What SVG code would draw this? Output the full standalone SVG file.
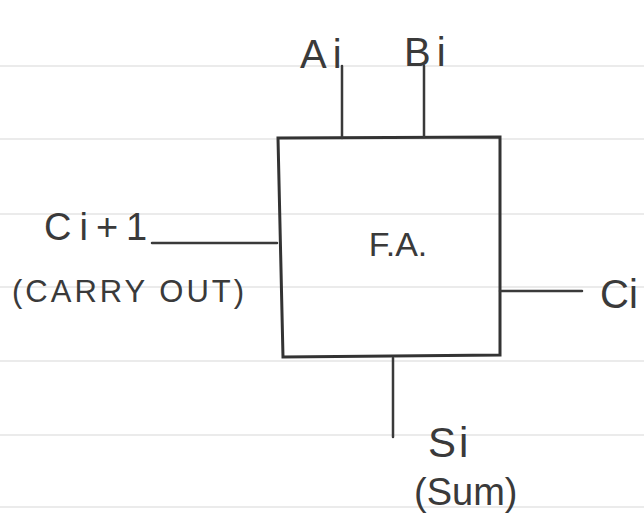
<svg xmlns="http://www.w3.org/2000/svg" width="644" height="515" viewBox="0 0 644 515">
<style>
.rule{stroke:#e4e4e4;stroke-width:1.5}
.wire{stroke:#3a3a3a;stroke-width:2.5;fill:none;stroke-linecap:round}
.box{stroke:#333;stroke-width:3;fill:none}
.lbl{font-family:"Liberation Sans",Arial,sans-serif;fill:#3a3a3a;font-weight:normal}
</style>
<rect width="644" height="515" fill="#ffffff"/>
<g id="paper">
<line class="rule" x1="0" y1="66" x2="644" y2="66"/>
<line class="rule" x1="0" y1="139" x2="644" y2="139"/>
<line class="rule" x1="0" y1="214" x2="644" y2="214"/>
<line class="rule" x1="0" y1="287" x2="644" y2="287"/>
<line class="rule" x1="0" y1="361" x2="644" y2="361"/>
<line class="rule" x1="0" y1="435" x2="644" y2="435"/>
<line class="rule" x1="0" y1="507" x2="644" y2="507"/>
</g>
<g id="fa">
<path class="box" d="M278,138 L500,137 L500,355 L283,357 Z"/>
<text class="lbl" x="398" y="256" font-size="34" text-anchor="middle">F.A.</text>
</g>
<g id="ai"><text class="lbl" x="300" y="68" font-size="40" letter-spacing="6">Ai</text></g>
<g id="bi"><text class="lbl" x="404" y="66" font-size="40" letter-spacing="6">Bi</text></g>
<g id="cout">
<text class="lbl" x="44" y="240" font-size="38" letter-spacing="8">Ci+1</text>
<text class="lbl" x="12" y="302" font-size="31" letter-spacing="3">(CARRY OUT)</text>
</g>
<g id="cin"><text class="lbl" x="600" y="308" font-size="40">Ci</text></g>
<g id="sum">
<text class="lbl" x="428" y="457" font-size="42" letter-spacing="3">Si</text>
<text class="lbl" x="414" y="505" font-size="38">(Sum)</text>
</g>
<g id="connectors">
<line class="wire" x1="342" y1="66" x2="342" y2="138"/>
<line class="wire" x1="424" y1="66" x2="424" y2="137"/>
<line class="wire" x1="152" y1="243" x2="277" y2="243"/>
<line class="wire" x1="500" y1="291" x2="582" y2="291"/>
<line class="wire" x1="393" y1="358" x2="393" y2="437"/>
</g>
</svg>
